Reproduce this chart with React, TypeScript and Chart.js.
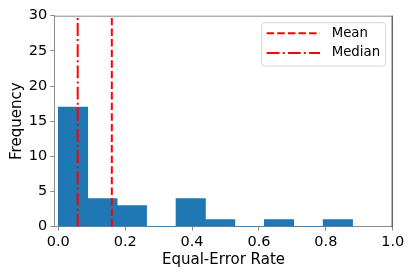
import React, { useEffect, useRef } from "react";
import { Chart, registerables } from "chart.js";

Chart.register(...registerables);

// Histogram of equal-error rates (10 bins, min 0.0, width 0.088)
const binStart = 0.0;
const binWidth = 0.088;
const binCounts = [17, 4, 3, 0, 4, 1, 0, 1, 0, 1];
const meanValue = 0.16;
const medianValue = 0.058;
const xTickValues = [0, 0.2, 0.4, 0.6, 0.8, 1.0];
const yTickValues = [0, 5, 10, 15, 20, 25, 30];
const legendLabels = ["Mean", "Median"];

const FONT = "'DejaVu Sans', sans-serif";
const W = 415;
const H = 277;
const PLOT = { left: 54.3, right: 392.7, top: 15.7, bottom: 226.7 };

const dashMean = [7.4, 3.2];
const dashMedian = [12.8, 3.2, 2, 3.2];

export default function App() {
  const ref = useRef<HTMLCanvasElement | null>(null);

  useEffect(() => {
    document.body.style.margin = "0";
    const canvas = ref.current;
    if (!canvas) return;

    const barData = binCounts.map((c, i) => ({ x: binStart + binWidth * (i + 0.5), y: c }));

    const overlay = {
      id: "overlay",
      afterDraw(chart: any) {
        const ctx = chart.ctx as CanvasRenderingContext2D;
        const a = chart.chartArea;
        ctx.save();
        // top & right spines
        ctx.lineWidth = 1;
        ctx.strokeStyle = "#8c8c8c";
        ctx.beginPath();
        ctx.moveTo(a.left, a.top + 0.5);
        ctx.lineTo(a.right, a.top + 0.5);
        ctx.stroke();
        ctx.strokeStyle = "#222";
        ctx.beginPath();
        ctx.moveTo(a.right - 0.5, a.top);
        ctx.lineTo(a.right - 0.5, a.bottom);
        ctx.stroke();

        // axis titles
        ctx.fillStyle = "#000";
        ctx.font = `15px ${FONT}`;
        ctx.textAlign = "center";
        ctx.textBaseline = "middle";
        ctx.fillText("Equal-Error Rate", (a.left + a.right) / 2, 260);
        ctx.save();
        ctx.translate(17, (a.top + a.bottom) / 2);
        ctx.rotate(-Math.PI / 2);
        ctx.fillText("Frequency", 0, 0);
        ctx.restore();

        // legend
        const bx = 261.7, by = 22.7, bw = 124, bh = 43.3, r = 3;
        ctx.beginPath();
        ctx.moveTo(bx + r, by);
        ctx.lineTo(bx + bw - r, by);
        ctx.quadraticCurveTo(bx + bw, by, bx + bw, by + r);
        ctx.lineTo(bx + bw, by + bh - r);
        ctx.quadraticCurveTo(bx + bw, by + bh, bx + bw - r, by + bh);
        ctx.lineTo(bx + r, by + bh);
        ctx.quadraticCurveTo(bx, by + bh, bx, by + bh - r);
        ctx.lineTo(bx, by + r);
        ctx.quadraticCurveTo(bx, by, bx + r, by);
        ctx.closePath();
        ctx.fillStyle = "rgba(255,255,255,0.8)";
        ctx.fill();
        ctx.strokeStyle = "#d6d6d6";
        ctx.lineWidth = 1;
        ctx.stroke();

        const rows = [
          { label: legendLabels[0], dash: dashMean, y: 33.3 },
          { label: legendLabels[1], dash: dashMedian, y: 53 },
        ];
        for (const row of rows) {
          ctx.strokeStyle = "#ff0000";
          ctx.lineWidth = 2;
          ctx.setLineDash(row.dash);
          ctx.beginPath();
          ctx.moveTo(266.7, row.y);
          ctx.lineTo(320, row.y);
          ctx.stroke();
          ctx.setLineDash([]);
          ctx.fillStyle = "#000";
          ctx.font = `13.3px ${FONT}`;
          ctx.textAlign = "left";
          ctx.textBaseline = "middle";
          ctx.fillText(row.label, 331.7, row.y);
        }
        ctx.restore();
      },
    };

    const chart = new Chart(canvas, {
      type: "bar",
      data: {
        datasets: [
          {
            type: "line" as any,
            data: [{ x: meanValue, y: 0 }, { x: meanValue, y: 30 }],
            borderColor: "#ff0000",
            borderWidth: 2,
            borderDash: dashMean,
            pointRadius: 0,
            order: 0,
          } as any,
          {
            type: "line" as any,
            data: [{ x: medianValue, y: 0 }, { x: medianValue, y: 30 }],
            borderColor: "#ff0000",
            borderWidth: 2,
            borderDash: dashMedian,
            pointRadius: 0,
            order: 0,
          } as any,
          {
            type: "bar",
            data: barData as any,
            backgroundColor: "#1f77b4",
            borderWidth: 0,
            barPercentage: 1,
            categoryPercentage: 1,
            order: 1,
          } as any,
        ],
      },
      options: {
        animation: false,
        responsive: false,
        devicePixelRatio: 1,
        events: [],
        layout: {
          padding: { left: 0, top: PLOT.top, right: W - PLOT.right, bottom: 0 },
        },
        plugins: {
          legend: { display: false },
          tooltip: { enabled: false },
        },
        scales: {
          x: {
            type: "linear",
            min: -0.012,
            max: 1.0,
            offset: false,
            afterFit(scale: any) {
              scale.height = H - PLOT.bottom;
            },
            afterBuildTicks(scale: any) {
              scale.ticks = xTickValues.map((v) => ({ value: v }));
            },
            grid: { drawOnChartArea: false, tickLength: 4, tickColor: "#8c8c8c", offset: false },
            border: { color: "#8c8c8c", width: 1 },
            ticks: {
              color: "#000",
              font: { family: FONT, size: 14.5 },
              padding: 3,
              maxRotation: 0,
              autoSkip: false,
              callback: (v: any) => Number(v).toFixed(1),
            },
          },
          y: {
            type: "linear",
            min: 0,
            max: 30,
            afterFit(scale: any) {
              scale.width = PLOT.left;
            },
            afterBuildTicks(scale: any) {
              scale.ticks = yTickValues.map((v) => ({ value: v }));
            },
            grid: { drawOnChartArea: false, tickLength: 4, tickColor: "#8c8c8c" },
            border: { color: "#8c8c8c", width: 1 },
            ticks: {
              color: "#000",
              font: { family: FONT, size: 14.5 },
              padding: 3,
              autoSkip: false,
              callback: (v: any) => String(v),
            },
          },
        },
      },
      plugins: [overlay],
    });

    return () => chart.destroy();
  }, []);

  return (
    <div style={{ position: "absolute", left: 0, top: 0, width: W, height: H, background: "#fff" }}>
      <canvas ref={ref} width={W} height={H} style={{ width: W, height: H, display: "block" }} />
    </div>
  );
}
